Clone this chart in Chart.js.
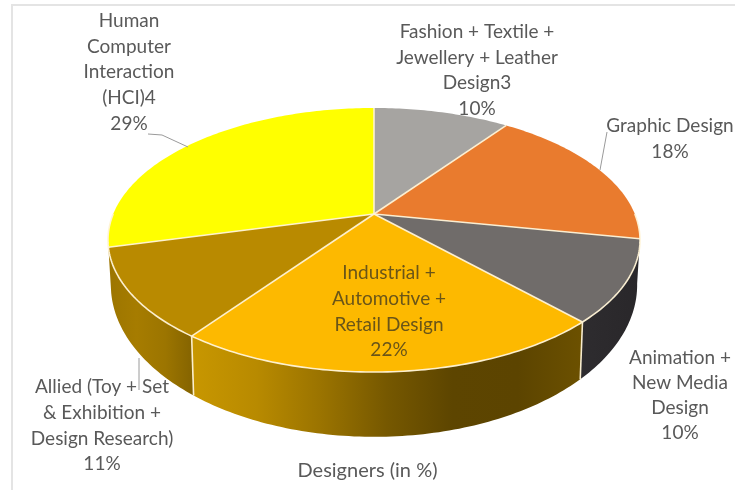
<!DOCTYPE html>
<html>
<head>
<meta charset="utf-8">
<title>Designers (in %)</title>
<script src="https://cdn.jsdelivr.net/npm/chart.js@4"></script>
<style>
  html, body { margin: 0; background: #fff; }
  #wrap { position: relative; width: 735px; height: 490px; overflow: hidden; }
  #frame { position: absolute; left: 11px; top: 4px; right: -4px; bottom: -4px;
           border-left: 2px solid #e4e4e4; border-top: 2px solid #e4e4e4; }
  canvas { display: block; filter: blur(0.4px); }
</style>
</head>
<body>
<div id="wrap">
  <div id="frame"></div>
  <canvas id="pie" width="735" height="490"></canvas>
</div>
<script>
const categories = ['Fashion + Textile + Jewellery + Leather Design3', 'Graphic Design',
  'Animation + New Media Design', 'Industrial + Automotive + Retail Design',
  'Allied (Toy + Set & Exhibition + Design Research)', 'Human Computer Interaction (HCI)4'];
const shares = [10, 18, 10, 22, 11, 29];
const labelLines = [
  ['Fashion + Textile +', 'Jewellery + Leather', 'Design3'],
  ['Graphic Design'],
  ['Animation +', 'New Media', 'Design'],
  ['Industrial +', 'Automotive +', 'Retail Design'],
  ['Allied (Toy + Set', '& Exhibition +', 'Design Research)'],
  ['Human', 'Computer', 'Interaction', '(HCI)4'],
];
const topColors = ['#a6a4a1', '#e97b2e', '#706c6a', '#fdb900', '#b98a00', '#ffff00'];

// where each label block sits: centre x, y of first line
const labelPos = [[477, 32], [670, 126], [680, 358], [389, 273], [102, 387], [129, 21]];
const lineGap = [25.5, 26, 25, 25.7, 25.7, 25.6];
const labelColors = ['#595959', '#595959', '#595959', '#6a5518', '#595959', '#595959'];
const leaders = [
  [[148, 134], [162, 135], [188, 147]],
  [[607, 132], [600, 170]],
  [[139, 358], [139, 390]],
];
// wall gradients, left to right
const wallStops = {
  2: ['#2e2c2f', '#29272a'],
  3: ['#c89700', '#b88a00', '#9a7300', '#765800', '#5d4500', '#5c4400', '#6c5100'],
  4: ['#9c7500', '#a67c00', '#9c7500', '#846300'],
};

// perspective mapping of the pie's disc to the page
const K = 0.197;
const topFace = { x: 374, y: 214, a: 260.8, b: 126.9 };
const baseFace = { x: 374, y: 255, a: 258, b: 146 };

function project(face, angle) {
  const theta = angle + Math.PI / 2;
  const u = Math.sin(theta), v = -Math.cos(theta), d = 1 - K * v;
  return [face.x + face.a * u / d, face.y + face.b * v / d];
}

function arcPoints(face, start, end) {
  const pts = [];
  const n = Math.max(2, Math.ceil((end - start) * 60));
  for (let i = 0; i <= n; i++) pts.push(project(face, start + (end - start) * i / n));
  return pts;
}

function tracePath(ctx, pts) {
  ctx.beginPath();
  pts.forEach((p, i) => (i ? ctx.lineTo(p[0], p[1]) : ctx.moveTo(p[0], p[1])));
}

const pie3d = {
  id: 'pie3d',
  beforeDatasetDraw(chart, args) {
    const ctx = chart.ctx;
    const arcs = chart.getDatasetMeta(args.index).data;
    const rim = 'rgba(255,243,214,0.95)';
    ctx.save();
    ctx.lineJoin = 'round';

    // side walls, only the front half of the disc shows
    [2, 4, 3].forEach((i) => {
      const start = Math.max(arcs[i].startAngle, 0);
      const end = Math.min(arcs[i].endAngle, Math.PI);
      const upper = arcPoints(topFace, start, end);
      const lower = arcPoints(baseFace, start, end);
      const xs = upper.concat(lower).map((p) => p[0]);
      const grad = ctx.createLinearGradient(Math.min(...xs), 0, Math.max(...xs), 0);
      wallStops[i].forEach((c, s) => grad.addColorStop(s / (wallStops[i].length - 1), c));
      tracePath(ctx, upper.concat(lower.reverse()));
      ctx.closePath();
      ctx.fillStyle = grad;
      ctx.fill();
    });

    // seams between walls
    ctx.strokeStyle = rim;
    ctx.lineWidth = 1.6;
    [arcs[3].startAngle, arcs[4].startAngle].forEach((a) => {
      tracePath(ctx, [project(topFace, a), project(baseFace, a)]);
      ctx.stroke();
    });

    // top face
    arcs.forEach((arc, i) => {
      tracePath(ctx, [[topFace.x, topFace.y]].concat(arcPoints(topFace, arc.startAngle, arc.endAngle)));
      ctx.closePath();
      ctx.fillStyle = topColors[i];
      ctx.fill();
    });
    arcs.forEach((arc) => {
      tracePath(ctx, [[topFace.x, topFace.y], project(topFace, arc.startAngle)]);
      ctx.stroke();
    });
    tracePath(ctx, arcPoints(topFace, 0, Math.PI));
    ctx.stroke();
    ctx.restore();
    return false;
  },
  afterDraw(chart) {
    const ctx = chart.ctx;
    ctx.save();
    ctx.strokeStyle = '#9a9a9a';
    ctx.lineWidth = 1;
    leaders.forEach((l) => { tracePath(ctx, l); ctx.stroke(); });
    ctx.font = '19px Lato';
    ctx.textAlign = 'center';
    ctx.textBaseline = 'middle';
    labelLines.forEach((lines, i) => {
      const rows = lines.concat(shares[i] + '%');
      ctx.fillStyle = labelColors[i];
      rows.forEach((t, r) => ctx.fillText(t, labelPos[i][0], labelPos[i][1] + r * lineGap[i]));
    });
    ctx.restore();
  },
};

new Chart(document.getElementById('pie'), {
  type: 'pie',
  data: {
    labels: categories,
    datasets: [{ data: shares, backgroundColor: topColors }],
  },
  options: {
    responsive: false,
    animation: false,
    plugins: {
      legend: { display: false },
      tooltip: { enabled: false },
      title: {
        display: true,
        text: 'Designers (in %)',
        position: 'bottom',
        color: '#595959',
        font: { family: 'Lato', size: 20, weight: 'normal' },
        padding: { top: 0, bottom: 7 },
      },
    },
  },
  plugins: [pie3d],
});
</script>
</body>
</html>
